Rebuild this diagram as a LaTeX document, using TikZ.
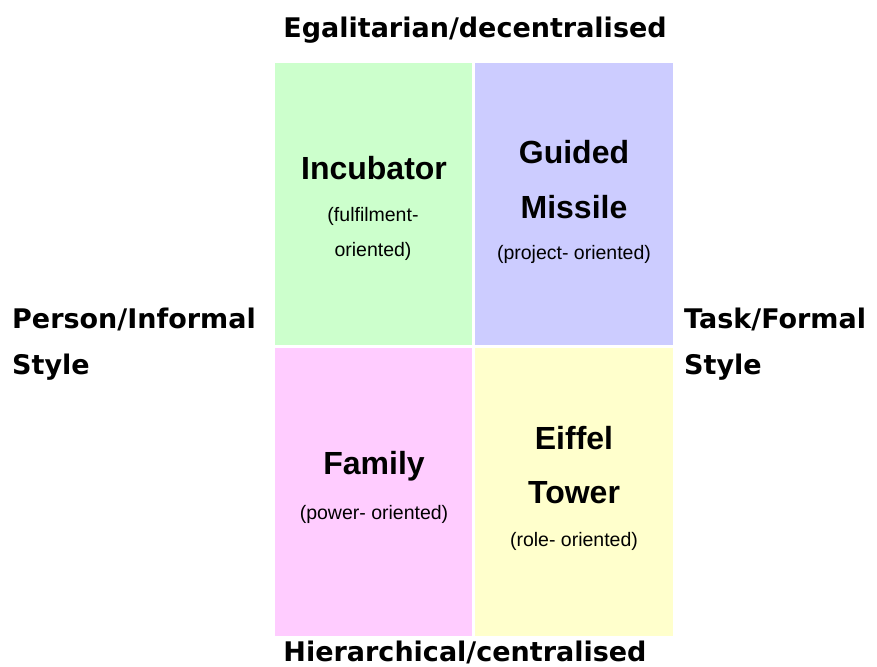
\documentclass[tikz,border=0pt]{standalone}
\usepackage{fontspec}
\setmainfont{Liberation Sans}
\newfontfamily\axisfont{DejaVu Sans}
\usetikzlibrary{positioning}

\definecolor{incgreen}{HTML}{CCFFCC}
\definecolor{misblue}{HTML}{CCCCFF}
\definecolor{fampink}{HTML}{FFCCFF}
\definecolor{eifyellow}{HTML}{FFFFCC}

\begin{document}
\begin{tikzpicture}[x=1pt, y=-1pt,
  quad/.style={rectangle, inner sep=0pt, minimum width=197pt, minimum height=282pt},
  title/.style={font=\fontsize{32}{36}\selectfont\bfseries},
  sub/.style={font=\fontsize{19.5}{22}\selectfont},
  axis/.style={font=\axisfont\fontsize{27}{30}\selectfont\bfseries}]
\useasboundingbox (0,0) rectangle (877,666);
% the four cultures
\node[quad, fill=incgreen] (incubator) at (373.5,204) {};
\node[quad, fill=misblue, minimum width=198pt] (missile) at (574,204) {};
\node[quad, fill=fampink, minimum height=288pt] (family) at (373.5,492) {};
\node[quad, fill=eifyellow, minimum width=198pt, minimum height=288pt] (tower) at (574,492) {};
% texts in the boxes
\node[title] (inctitle) at (374,168) {Incubator};
\node[sub] (incsub1) at (373,216) {(fulfilment-};
\node[sub] (incsub2) at (373,251) {oriented)};
\node[title] (mistitle1) at (574,152) {Guided};
\node[title] (mistitle2) at (574,207) {Missile};
\node[sub] (missub) at (574,254) {(project- oriented)};
\node[title] (famtitle) at (374,466) {Family};
\node[sub] (famsub) at (374,514) {(power- oriented)};
\node[title] (eiftitle1) at (574,438) {Eiffel};
\node[title] (eiftitle2) at (574,493) {Tower};
\node[sub] (eifsub) at (574,541) {(role- oriented)};
% axis labels
\node[axis] (top) at (475,30) {Egalitarian/decentralised};
\node[axis] (bottom) at (465,652) {Hierarchical/centralised};
\node[axis, anchor=west, inner sep=0pt] (left1) at (12,319) {Person/Informal};
\node[axis, anchor=west, inner sep=0pt] (left2) at (12,367) {Style};
\node[axis, anchor=west, inner sep=0pt] (right1) at (684,319) {Task/Formal};
\node[axis, anchor=west, inner sep=0pt] (right2) at (684,367) {Style};
\end{tikzpicture}
\end{document}
